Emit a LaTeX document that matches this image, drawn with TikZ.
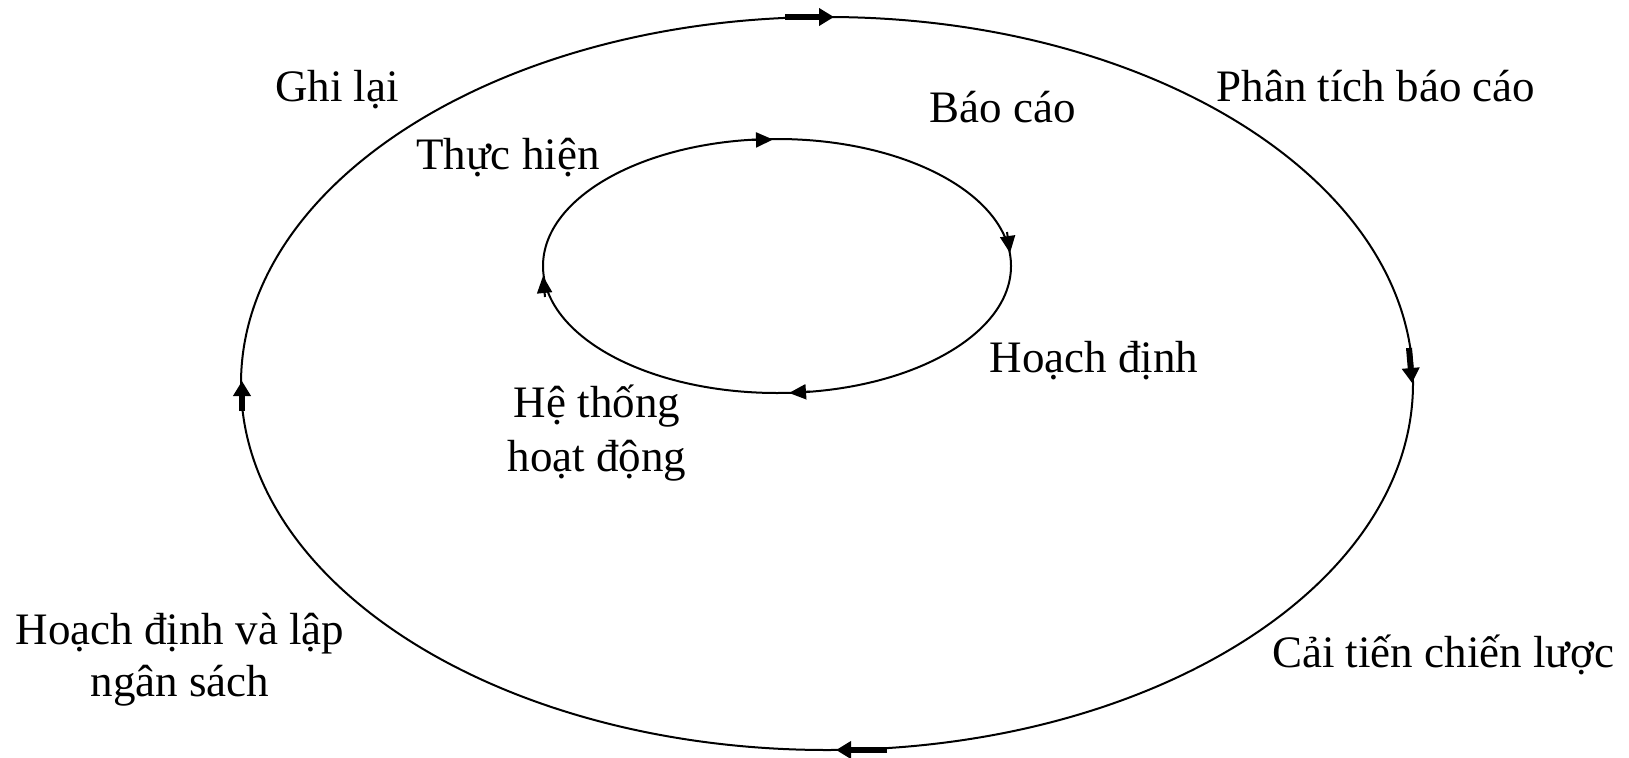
\documentclass[tikz,border=0pt]{standalone}
\usepackage{fontspec}
\setmainfont{Liberation Serif}
\usetikzlibrary{arrows.meta}
\begin{document}
\begin{tikzpicture}[x=1pt,y=-1pt,
  lbl/.style={anchor=base,inner sep=0pt,font=\fontsize{45}{54}\selectfont},
  ring/.style={line width=2pt},
  bigarrow/.style={line width=6pt,-{Triangle[length=15pt,width=17pt]}},
  smallarrow/.style={line width=2pt,-{Triangle[length=17pt,width=15pt]}}]
\useasboundingbox (0,0) rectangle (1629,757);
% outer cycle
\coordinate (oc) at (827,383.5);
\draw[ring] (oc) ellipse [x radius=586, y radius=366.5];
\draw[bigarrow] (785,17) -- (834,17);
\draw[bigarrow] (1409,348) -- (1412,383);
\draw[bigarrow] (887,750) -- (836,750);
\draw[bigarrow] (242,411) -- (242,381);
% inner cycle
\coordinate (ic) at (777,266);
\draw[ring] (ic) ellipse [x radius=234, y radius=127];
\draw[smallarrow] (752,140) -- (773,139.5);
\draw[smallarrow] (1007,232) -- (1010,253);
\draw[smallarrow] (810,391.5) -- (789,393);
\draw[smallarrow] (545,297) -- (543,276);
% labels
\node[lbl] (ghi) at (337,102) {Ghi lại};
\node[lbl] (pt) at (1376,102) {Phân tích báo cáo};
\node[lbl] (bc) at (1003,123) {Báo cáo};
\node[lbl] (th) at (508,169) {Thực hiện};
\node[lbl] (hd) at (1094,372) {Hoạch định};
\node[lbl] (ht1) at (597,417) {Hệ thống};
\node[lbl] (ht2) at (597,471) {hoạt động};
\node[lbl] (hn1) at (180,644) {Hoạch định và lập};
\node[lbl] (hn2) at (180,696) {ngân sách};
\node[lbl] (ct) at (1443,667) {Cải tiến chiến lược};
\end{tikzpicture}
\end{document}
